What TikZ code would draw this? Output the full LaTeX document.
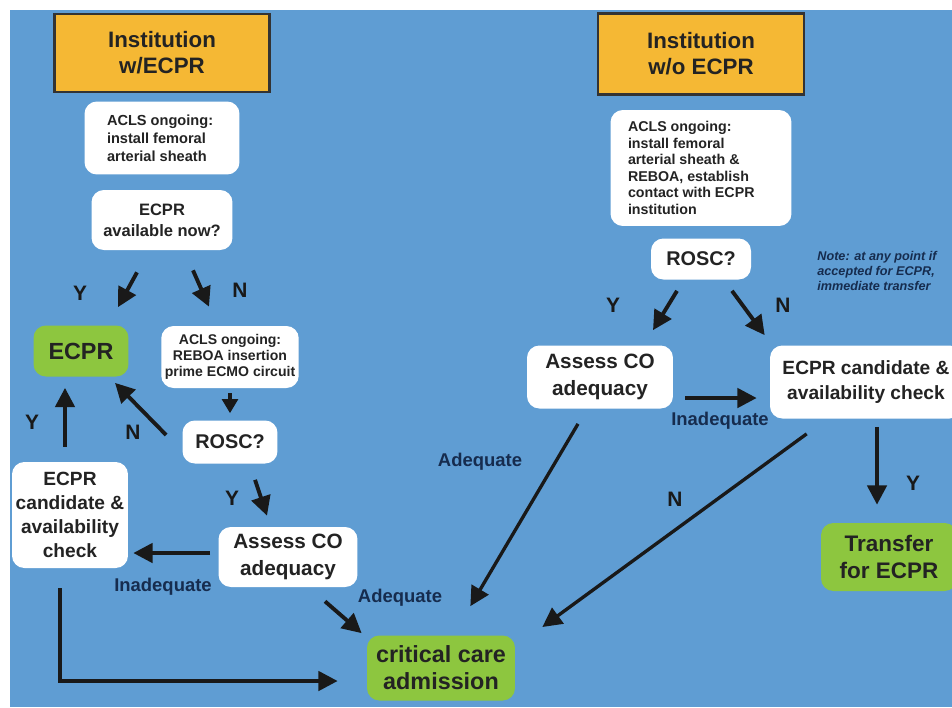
\documentclass[tikz,border=0pt]{standalone}
\usepackage{fontspec}
\setmainfont{Liberation Sans}
\definecolor{bgblue}{RGB}{95, 157, 211}
\definecolor{instorange}{RGB}{245, 184, 52}
\definecolor{okgreen}{RGB}{141, 198, 63}
\definecolor{navy1}{RGB}{22, 44, 78}
\definecolor{ink}{RGB}{35, 35, 35}
\usepackage{tikz}
\usetikzlibrary{arrows.meta, calc}

\begin{document}
\begin{tikzpicture}[x=0.02cm, y=-0.02cm,
  instbox/.style={draw=black!80, line width=1.2pt, fill=instorange, text=ink, align=center, inner sep=2pt},
  whitebox/.style={fill=white, rounded corners=7pt, text=ink, align=center, inner sep=2pt},
  greenbox/.style={fill=okgreen, rounded corners=7pt, text=ink, align=center, inner sep=2pt},
  yn/.style={font=\bfseries\fontsize{11.9}{13}\selectfont, text=black!90},
  cond/.style={font=\bfseries\fontsize{10.5}{12}\selectfont, text=navy1},
  arr/.style={-{Triangle[length=11pt, width=11pt]}, line width=2.2pt, black!90},
  longarr/.style={arr, line width=1.9pt}]

  \useasboundingbox (0,0) rectangle (952,707);
  \clip (0,0) rectangle (952,707);
  \fill[white] (0,0) rectangle (952,707);
  \fill[bgblue] (10,10) rectangle (952,707);

  % Institution with ECPR
  \node[instbox, minimum width=4.3cm, minimum height=1.56cm, font=\bfseries\fontsize{12.7}{14.7}\selectfont] (instA) at (162,53) {Institution\\w/ECPR};
  \node[whitebox, minimum width=3.1cm, minimum height=1.46cm, font=\bfseries\fontsize{8.3}{10.2}\selectfont] (aclsA) at (162,138) {\begin{minipage}{2.2cm}\raggedright ACLS ongoing:\\install femoral\\arterial sheath\end{minipage}};
  \node[whitebox, minimum width=2.82cm, minimum height=1.2cm, font=\bfseries\fontsize{9.4}{11.9}\selectfont] (availA) at (162,220) {ECPR\\available now?};
  \node[greenbox, minimum width=1.9cm, minimum height=1.02cm, font=\bfseries\fontsize{13.3}{15}\selectfont] (ecprA) at (81,351) {ECPR};
  \node[whitebox, minimum width=2.72cm, minimum height=1.24cm, font=\bfseries\fontsize{8}{9.1}\selectfont] (rebA) at (230,357) {ACLS ongoing:\\REBOA insertion\\prime ECMO circuit};
  \node[whitebox, minimum width=1.9cm, minimum height=0.86cm, font=\bfseries\fontsize{11.3}{13}\selectfont] (roscA) at (230,442) {ROSC?};
  \node[whitebox, minimum width=2.32cm, minimum height=2.12cm, font=\bfseries\fontsize{10.9}{13.6}\selectfont] (candA) at (70,515) {ECPR\\candidate \&\\availability\\check};
  \node[whitebox, minimum width=2.78cm, minimum height=1.2cm, font=\bfseries\fontsize{11.8}{15.3}\selectfont] (assessA) at (288,557) {Assess CO\\adequacy};
  \node[greenbox, minimum width=2.96cm, minimum height=1.3cm, font=\bfseries\fontsize{13.3}{15.3}\selectfont] (crit) at (441,668) {critical care\\admission};

  % Institution without ECPR
  \node[instbox, minimum width=4.12cm, minimum height=1.62cm, font=\bfseries\fontsize{12.7}{14.7}\selectfont] (instB) at (701,54) {Institution\\w/o ECPR};
  \node[whitebox, minimum width=3.62cm, minimum height=2.32cm, font=\bfseries\fontsize{8.1}{9.4}\selectfont] (aclsB) at (701,168) {\begin{minipage}{2.92cm}\raggedright ACLS ongoing:\\install femoral\\arterial sheath \&\\REBOA, establish\\contact with ECPR\\institution\end{minipage}};
  \node[whitebox, minimum width=2cm, minimum height=0.82cm, font=\bfseries\fontsize{11.3}{13}\selectfont] (roscB) at (701,259) {ROSC?};
  \node[text=navy1, align=left, font=\bfseries\itshape\fontsize{7.2}{8.8}\selectfont] (note) at (877,271) {Note: at any point if\\accepted for ECPR,\\immediate transfer};
  \node[whitebox, minimum width=2.92cm, minimum height=1.26cm, font=\bfseries\fontsize{11.8}{15.3}\selectfont] (assessB) at (600,377) {Assess CO\\adequacy};
  \node[whitebox, minimum width=3.84cm, minimum height=1.46cm, font=\bfseries\fontsize{10.9}{14.2}\selectfont] (candB) at (866,382) {ECPR candidate \&\\availability check};
  \node[greenbox, minimum width=2.72cm, minimum height=1.36cm, font=\bfseries\fontsize{12.8}{15.3}\selectfont] (transB) at (889,557) {Transfer\\for ECPR};

  % left arrows
  \draw[arr] ($(availA.south)+(-25,22)$) -- ($(ecprA.north)+(37,-18)$);
  \draw[arr] ($(availA.south)+(31,20)$) -- ($(rebA.north)+(-21,-19)$);
  \draw[arr, line width=1.8pt, -{Triangle[length=8pt, width=9pt]}] ($(rebA.south)+(0,5)$) -- ($(roscA.north)+(0,-7)$);
  \draw[arr] ($(roscA.west)+(-16,-7)$) -- ($(ecprA.south)+(34,6)$);
  \draw[arr] ($(candA.north)+(-5,-15)$) -- ($(ecprA.south)+(-16,11)$);
  \draw[arr] ($(roscA.south)+(25,16)$) -- ($(assessA.north)+(-21,-11)$);
  \draw[arr] ($(assessA.west)+(-8,-4)$) -- ($(candA.east)+(5,38)$);
  \draw[arr] ($(assessA.south)+(37,14)$) -- ($(crit.north west)+(-5,-2)$);
  \draw[arr] ($(candA.south)+(-10,20)$) |- ($(crit.west)+(-29,13)$);

  % right arrows
  \draw[arr] ($(roscB.south)+(-24,11)$) -- ($(assessB.north)+(53,-15)$);
  \draw[arr] ($(roscB.south)+(31,11)$) -- ($(candB.north west)+(-5,-10)$);
  \draw[arr] ($(assessB.east)+(12,21)$) -- ($(candB.west)+(-13,16)$);
  \draw[longarr] ($(assessB.south)+(-22,15)$) -- ($(crit.north east)+(-45,-29)$);
  \draw[longarr] ($(candB.south west)+(37,15)$) -- ($(crit.east)+(27,-41)$);
  \draw[arr] ($(candB.south)+(11,8)$) -- ($(transB.north)+(-12,-18)$);

  % labels
  \node[yn] (yA1) at (80,293) {Y};
  \node[yn] (nA1) at (240,290) {N};
  \node[yn] (nA2) at (133,432) {N};
  \node[yn] (yA2) at (32,422) {Y};
  \node[yn] (yA3) at (232,498) {Y};
  \node[cond] (inadA) at (163,587) {Inadequate};
  \node[cond] (adeqA) at (400,598) {Adequate};
  \node[cond] (adeqB) at (480,462) {Adequate};
  \node[yn] (yB1) at (613,305) {Y};
  \node[yn] (nB1) at (783,305) {N};
  \node[cond] (inadB) at (720,421) {Inadequate};
  \node[yn] (nB2) at (675,499) {N};
  \node[yn] (yB2) at (913,483) {Y};
\end{tikzpicture}
\end{document}
